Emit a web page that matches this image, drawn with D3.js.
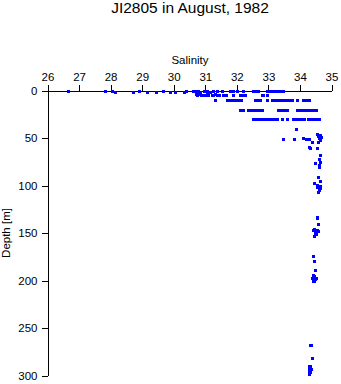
<!DOCTYPE html>
<html><head><meta charset="utf-8">
<script src="https://cdn.jsdelivr.net/npm/d3@7"></script>
<style>body{margin:0;background:#fff}svg{display:block}text{font-family:"Liberation Sans",Arial,sans-serif}</style>
</head><body><svg id="c" width="341" height="384"></svg>
<script>
const title = "JI2805 in August, 1982";
const xLabel = "Salinity";
const yLabel = "Depth [m]";
const xTicks = [26,27,28,29,30,31,32,33,34,35];
const yTicks = [0,50,100,150,200,250,300];
// [salinity, depth]
const obsSurface = [[26.66,0],[27.82,0],[28.03,1],[28.14,2],[28.70,2],[28.91,0],[29.14,2],[29.44,2],[29.65,0],[29.88,2],[30.04,2],[30.33,2],[30.39,0],[30.62,1],[30.66,0],[30.73,1],[30.78,0],[30.83,2],[30.96,1],[31.0,0],[31.05,1],[31.1,2],[31.15,2],[31.25,1],[31.36,1],[31.52,0],[31.78,1],[31.89,0],[31.99,0],[32.20,0],[32.52,0],[32.57,0],[32.62,0],[32.68,0],[32.95,0],[33.0,0],[33.05,0],[33.1,0],[33.15,0],[33.2,0],[33.25,0],[33.3,0],[33.35,0],[33.4,0],[33.47,0]];
const obs5m = [[30.70,4],[30.75,5],[30.80,4],[30.85,5],[30.95,5],[31.0,5],[31.05,4],[31.1,5],[31.2,5],[31.25,5],[31.3,4],[31.36,5],[31.45,5],[31.55,5],[31.6,5],[31.65,5],[31.89,5],[32.10,5],[32.15,5],[32.2,5],[32.25,5],[32.8,5],[32.84,5],[32.95,5]];
const obs10m = [[31.31,10],[31.68,10],[31.73,10],[31.78,10],[31.83,10],[31.88,10],[31.93,10],[31.98,10],[32.03,10],[32.08,10],[32.13,10],[32.56,10],[32.61,10],[32.66,10],[32.72,10],[32.95,10],[33.10,10],[33.15,10],[33.2,10],[33.25,10],[33.3,10],[33.35,10],[33.4,10],[33.45,10],[33.5,10],[33.55,10],[33.6,10],[33.65,10],[33.7,10],[33.76,10],[33.90,10],[34.09,10],[34.14,10],[34.19,10],[34.24,10],[34.30,10]];
const obs20m = [[32.10,20],[32.15,20],[32.2,20],[32.35,20],[32.4,20],[32.45,20],[32.5,20],[32.55,20],[32.6,20],[32.65,20],[32.7,20],[32.75,20],[32.79,20],[33.31,20],[33.36,20],[33.41,20],[33.46,20],[33.52,20],[33.58,20],[33.90,20],[33.95,20],[34.0,20],[34.05,20],[34.1,20],[34.15,20],[34.2,20],[34.25,20],[34.3,20],[34.35,20],[34.4,20],[34.45,20],[34.50,20]];
const obs30m = [[32.52,30],[32.57,30],[32.62,30],[32.67,30],[32.72,30],[32.77,30],[32.82,30],[32.87,30],[32.92,30],[32.97,30],[33.02,30],[33.07,30],[33.12,30],[33.17,30],[33.22,30],[33.26,30],[33.43,30],[33.59,30],[33.79,30],[33.84,30],[33.89,30],[33.94,30],[33.99,30],[34.04,30],[34.09,30],[34.14,30],[34.25,30],[34.3,30],[34.35,30],[34.4,30],[34.45,30],[34.5,30],[34.55,30],[34.60,30]];
const obs50m = [[33.86,40],[33.47,51],[33.80,51],[34.09,50],[34.20,51],[34.25,51],[34.30,51],[34.39,54],[34.53,46],[34.58,48],[34.60,50],[34.63,52],[34.66,49],[34.56,54],[34.65,47],[34.30,59],[34.33,60],[34.55,60]];
const obs100m = [[34.65,68],[34.60,72],[34.62,75],[34.48,76],[34.61,78],[34.60,81],[34.58,91],[34.63,95],[34.46,97],[34.55,99],[34.58,100],[34.62,101],[34.55,102],[34.65,103],[34.6,105],[34.58,107]];
const obs150m = [[34.53,133],[34.55,134],[34.58,141],[34.42,147],[34.45,146],[34.50,148],[34.55,147],[34.58,148],[34.48,150],[34.52,151],[34.45,153]];
const obs200m = [[34.42,174],[34.43,179],[34.48,189],[34.40,194],[34.44,195],[34.38,197],[34.47,198],[34.50,197],[34.42,199],[34.40,201],[34.45,200]];
const obs300m = [[34.32,268],[34.36,268],[34.37,282],[34.28,290],[34.32,290],[34.30,292],[34.35,293],[34.28,295],[34.33,296],[34.30,298]];

const data = [].concat(obsSurface, obs5m, obs10m, obs20m, obs30m, obs50m, obs100m, obs150m, obs200m, obs300m);

const svg = d3.select("#c");
const x = d3.scaleLinear().domain([26,35]).range([47.5,331.5]);
const y = d3.scaleLinear().domain([0,300]).range([90.5,375.5]);

svg.append("text").attr("x",190).attr("y",13).attr("text-anchor","middle")
  .attr("font-size",15.5).text(title);
svg.append("text").attr("x",190).attr("y",63.5).attr("text-anchor","middle")
  .attr("font-size",11.5).text(xLabel);
svg.append("text").attr("transform","translate(9.5,233) rotate(-90)").attr("text-anchor","middle")
  .attr("font-size",11.5).text(yLabel);

const gx = svg.append("g").attr("transform","translate(0,90.5)")
  .call(d3.axisTop(x).tickValues(xTicks).tickFormat(d3.format("d")).tickSizeInner(6).tickSizeOuter(0).tickPadding(4));
const gy = svg.append("g").attr("transform","translate(47.5,0)")
  .call(d3.axisLeft(y).tickValues(yTicks).tickFormat(d3.format("d")).tickSizeInner(6).tickSizeOuter(0).tickPadding(4));
[gx,gy].forEach(g=>{
  g.selectAll("text").attr("font-family","Liberation Sans, Arial, sans-serif").attr("font-size",11.5).attr("fill","#000");
  g.selectAll("line,path").attr("stroke","#000").attr("shape-rendering","crispEdges");
});

svg.append("g").selectAll("rect").data(data).join("rect")
  .attr("x",d=>Math.round(x(d[0]))-1.5).attr("y",d=>Math.round(y(d[1]))-1.5)
  .attr("width",3).attr("height",3).attr("fill","#0000ff").attr("shape-rendering","crispEdges");
</script></body></html>
